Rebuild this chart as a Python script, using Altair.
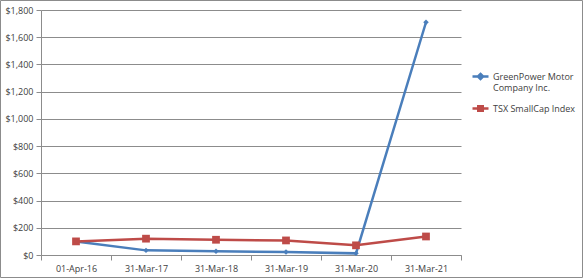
import altair as alt
import pandas as pd

dates = ["01-Apr-16", "31-Mar-17", "31-Mar-18", "31-Mar-19", "31-Mar-20", "31-Mar-21"]
greenpower = [100, 34, 27, 22, 12, 1710]
tsx = [100, 120, 112, 107, 71, 136]
series_names = ["GreenPower Motor Company Inc.", "TSX SmallCap Index"]
series_colors = ["#4A7EBB", "#BE4B48"]

df_g = pd.DataFrame({"date": dates, "series": series_names[0], "value": greenpower})
df_t = pd.DataFrame({"date": dates, "series": series_names[1], "value": tsx})

FONT = "Open Sans"
GRAY = "#8c8c8c"
TXT = "#404040"

x = alt.X("date:N", sort=dates, bandPosition=0.5,
          scale=alt.Scale(type="band", paddingInner=0, paddingOuter=0),
          axis=alt.Axis(title=None, tickBand="extent", tickSize=5, labelPadding=4,
                        labelFontSize=9, labelFont=FONT, labelColor=TXT,
                        domainColor=GRAY, tickColor=GRAY, labelAngle=0))
y = alt.Y("value:Q", scale=alt.Scale(domain=[0, 1800], nice=False),
          axis=alt.Axis(title=None, values=list(range(0, 1801, 200)), format="$,.0f",
                        tickSize=5, labelPadding=3, labelFontSize=9, labelFont=FONT,
                        labelColor=TXT, domainColor=GRAY, tickColor=GRAY,
                        gridColor=GRAY, gridWidth=1))

leg_common = dict(title=None, orient="none", labelFont=FONT, labelFontSize=9,
                  labelColor=TXT, symbolStrokeWidth=2.5, symbolSize=256, labelOffset=3)

leg_g = alt.Legend(legendX=430, legendY=57,
                   symbolType="M-1,0H1M0,-0.32L0.32,0L0,0.32L-0.32,0Z",
                   symbolFillColor=series_colors[0], symbolStrokeColor=series_colors[0],
                   labelExpr="['GreenPower Motor', 'Company Inc.']",
                   **leg_common)
leg_t = alt.Legend(legendX=430, legendY=89,
                   symbolType="M-1,0H1M-0.28,-0.28H0.28V0.28H-0.28Z",
                   symbolFillColor=series_colors[1], symbolStrokeColor=series_colors[1],
                   **leg_common)

line_g = alt.Chart(df_g).mark_line(strokeWidth=2.5).encode(
    x=x, y=y,
    stroke=alt.Stroke("series:N", scale=alt.Scale(domain=[series_names[0]], range=[series_colors[0]]), legend=leg_g),
)
pts_g = alt.Chart(df_g).mark_point(filled=True, shape="diamond", size=30, opacity=1,
                                   color=series_colors[0]).encode(x=x, y=y)

line_t = alt.Chart(df_t).mark_line(strokeWidth=2.5).encode(
    x=x, y=y,
    color=alt.Color("series:N", scale=alt.Scale(domain=[series_names[1]], range=[series_colors[1]]), legend=leg_t),
)
pts_t = alt.Chart(df_t).mark_point(filled=True, shape="square", size=60, opacity=1,
                                   color=series_colors[1]).encode(x=x, y=y)

border = alt.Chart(pd.DataFrame({"a": [0]})).mark_rect(fill=None, stroke=GRAY, strokeWidth=1).encode(
    x=alt.value(-40.5), x2=alt.value(541.5), y=alt.value(-9.5), y2=alt.value(267.5)
)

chart = alt.layer(line_g, line_t, pts_g, pts_t, border).properties(
    width=420, height=245,
    autosize=alt.AutoSizeParams(type="none"),
    padding={"left": 41, "top": 10, "right": 122, "bottom": 23},
    background="white",
).configure_view(stroke=None)

chart.save("out.html", embed_options={"renderer": "svg", "actions": False})
